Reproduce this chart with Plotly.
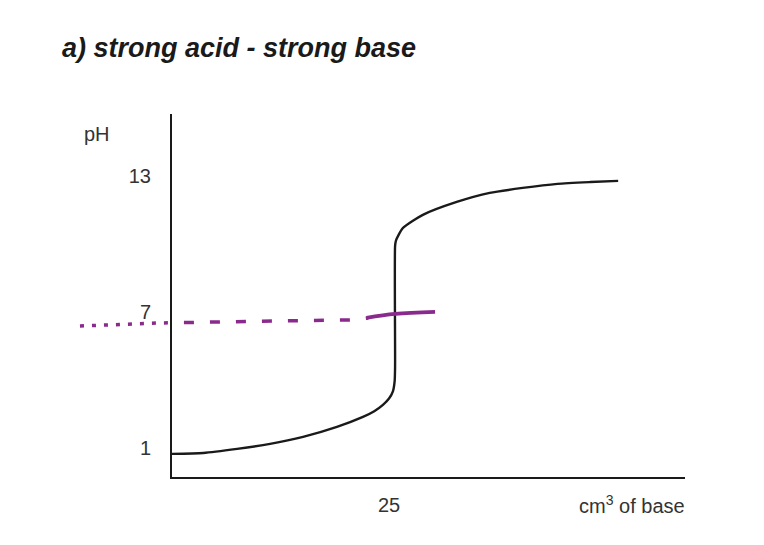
import plotly.graph_objects as go

# titration curve (cm3 of base, pH)
base_volume = [0, 3.6, 7.5, 11.3, 15.1, 19.0, 22.0, 23.3, 24.3, 25.0, 25.45, 25.65, 25.7, 25.7,
               25.8, 26.6, 28.9, 32.8, 36.6, 40.4, 44.4, 48.2, 51.4]
ph_values = [0.74, 0.78, 0.96, 1.18, 1.49, 1.93, 2.37, 2.62, 2.90, 3.18, 3.50, 3.95, 4.6, 9.9,
             10.15, 10.70, 11.28, 11.85, 12.25, 12.47, 12.65, 12.73, 12.78]

# purple hand-drawn line at the equivalence point
dash_x = [-10.6, -1.7, 11.6, 20.9, 22.6]
dash_y = [6.38, 6.51, 6.60, 6.65, 6.73]
solid_x = [22.4, 25.7, 30.3]
solid_y = [6.74, 6.91, 7.0]

ph_ticks = [1, 7, 13]
volume_ticks = [25]

curve_color = '#1a1a1a'
purple = '#8b2a8d'
font_name = 'Liberation Sans, Arial, sans-serif'

fig = go.Figure()

# black curve
fig.add_trace(go.Scatter(x=base_volume, y=ph_values, mode='lines',
                         line=dict(color=curve_color, width=2.4, shape='spline', smoothing=0.6),
                         xaxis='x', yaxis='y', hoverinfo='skip'))

# dashed purple - same data on both x axes, each one clips its own part
fig.add_trace(go.Scatter(x=dash_x, y=dash_y, mode='lines',
                         line=dict(color=purple, width=3.5, dash='4px,8px'),
                         xaxis='x2', yaxis='y', hoverinfo='skip'))
fig.add_trace(go.Scatter(x=dash_x, y=dash_y, mode='lines',
                         line=dict(color=purple, width=3.5, dash='10px,16px'),
                         xaxis='x', yaxis='y', hoverinfo='skip'))

fig.add_trace(go.Scatter(x=solid_x, y=solid_y, mode='lines',
                         line=dict(color=purple, width=3.8, shape='spline'),
                         xaxis='x', yaxis='y', hoverinfo='skip'))

fig.update_layout(
    width=764, height=545,
    margin=dict(l=60, r=79, t=114, b=68),
    paper_bgcolor='white',
    plot_bgcolor='white',
    showlegend=False,
    font=dict(family=font_name, size=20, color='#333333'),
    title=dict(text='a) strong acid - strong base', x=62 / 764, xanchor='left',
               y=1 - 48 / 545, yanchor='middle',
               font=dict(family=font_name, size=27, color='#1a1a1a',
                         weight='bold', style='italic')),
    xaxis=dict(domain=[0.1792, 1], range=[0, 59.1], showgrid=False, zeroline=False,
               showline=True, linecolor=curve_color, linewidth=2,
               tickvals=volume_ticks, ticktext=[str(v) for v in volume_ticks],
               ticks='', ticklabelstandoff=9),
    xaxis2=dict(domain=[0, 0.1792], range=[-12.9, 0], anchor='y', visible=False),
    yaxis=dict(range=[-0.28, 15.73], anchor='x', showgrid=False, zeroline=False,
               showline=True, linecolor=curve_color, linewidth=2,
               tickvals=ph_ticks, ticktext=[str(v) for v in ph_ticks],
               ticks='', ticklabelstandoff=15),
    annotations=[
        dict(text='pH', xref='paper', yref='paper', x=(97 - 60) / 625, y=(477 - 134) / 363,
             showarrow=False, xanchor='center', yanchor='middle'),
        dict(text='cm<sup>3</sup> of base', xref='paper', yref='paper',
             x=(632 - 60) / 625, y=-(505 - 477) / 363,
             showarrow=False, xanchor='center', yanchor='middle'),
    ],
)

# page body has a default 8px margin, drop it so the figure sits at 0,0
fig.write_html('out.html', config={'displayModeBar': False},
               post_script="document.body.style.margin='0';")
